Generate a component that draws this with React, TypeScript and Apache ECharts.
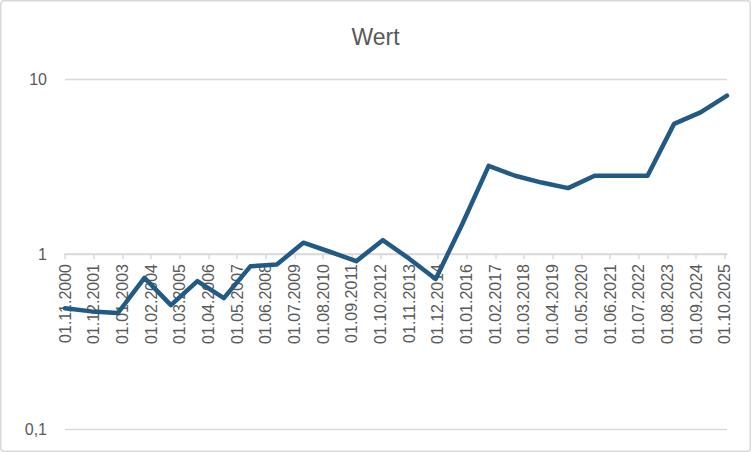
import React, { useEffect, useRef } from 'react';
import * as echarts from 'echarts';

// tick labels of the date axis (every 13 months, starting 01.11.2000)
const tickLabels = [
  '01.11.2000', '01.12.2001', '01.01.2003', '01.02.2004', '01.03.2005', '01.04.2006',
  '01.05.2007', '01.06.2008', '01.07.2009', '01.08.2010', '01.09.2011', '01.10.2012',
  '01.11.2013', '01.12.2014', '01.01.2016', '01.02.2017', '01.03.2018', '01.04.2019',
  '01.05.2020', '01.06.2021', '01.07.2022', '01.08.2023', '01.09.2024', '01.10.2025',
];

// dates of the data points
const pointDates = [
  '01.11.2000', '01.11.2001', '01.11.2002', '01.11.2003', '01.11.2004', '01.11.2005',
  '01.11.2006', '01.11.2007', '01.11.2008', '01.11.2009', '01.11.2010', '01.11.2011',
  '01.11.2012', '01.11.2013', '01.11.2014', '01.11.2015', '01.11.2016', '01.11.2017',
  '01.11.2018', '01.11.2019', '01.11.2020', '01.11.2021', '01.11.2022', '01.11.2023',
  '01.11.2024', '01.11.2025',
];

// Wert
const values = [
  0.49, 0.47, 0.46, 0.73, 0.51, 0.70,
  0.56, 0.85, 0.87, 1.16, 1.03, 0.91,
  1.20, 0.94, 0.72, 1.48, 3.19, 2.80,
  2.56, 2.38, 2.80, 2.80, 2.80, 5.54,
  6.45, 8.04,
];

const yTicks = [0.1, 1, 10];

const START_YEAR = 2000;
const START_MONTH = 11;
const MONTH_STEP = 13;

// months since the first date of the axis
const monthIndex = (d: string): number => {
  const [, m, y] = d.split('.').map(Number);
  return (y - START_YEAR) * 12 + (m - START_MONTH);
};

const App: React.FC = () => {
  const chartRef = useRef<HTMLDivElement>(null);

  useEffect(() => {
    document.body.style.margin = '0';
    const chart = echarts.init(chartRef.current!, undefined, { renderer: 'svg' });

    const lastMonth = monthIndex(pointDates[pointDates.length - 1]);

    const options = {
      animation: false,
      backgroundColor: '#ffffff',
      title: {
        text: 'Wert',
        left: 'center',
        top: 20,
        textStyle: {
          fontFamily: 'Liberation Sans',
          fontSize: 23,
          fontWeight: 'normal',
          color: '#595959',
        },
      },
      graphic: [
        {
          type: 'rect',
          shape: { x: 0.75, y: 0.75, width: 749.5, height: 450.5, r: 3 },
          style: { fill: 'none', stroke: '#d9d9d9', lineWidth: 1.5 },
          silent: true,
        },
      ],
      grid: { left: 65, right: 24, top: 79, bottom: 23 },
      xAxis: {
        type: 'value',
        min: 0,
        max: lastMonth,
        interval: MONTH_STEP,
        offset: -175, // axis crosses the log axis at 1
        axisLine: { show: true, lineStyle: { color: '#d9d9d9', width: 1.5 } },
        axisTick: { show: true, length: 5, lineStyle: { color: '#d9d9d9', width: 1.5 } },
        splitLine: { show: false },
        axisLabel: {
          rotate: 90,
          margin: 10,
          fontFamily: 'Liberation Sans',
          fontSize: 16,
          color: '#595959',
          showMaxLabel: false,
          formatter: (v: number) => (v % MONTH_STEP === 0 ? tickLabels[v / MONTH_STEP] ?? '' : ''),
        },
      },
      yAxis: {
        type: 'log',
        logBase: 10,
        min: yTicks[0],
        max: yTicks[yTicks.length - 1],
        axisLine: { show: false },
        axisTick: { show: false },
        splitLine: { show: true, lineStyle: { color: '#d9d9d9', width: 1.3 } },
        axisLabel: {
          margin: 18,
          fontFamily: 'Liberation Sans',
          fontSize: 16,
          color: '#595959',
          formatter: (v: number) => String(v).replace('.', ','),
        },
      },
      series: [
        {
          name: 'Wert',
          type: 'line',
          data: pointDates.map((d, i) => [monthIndex(d), values[i]]),
          symbol: 'none',
          clip: false,
          lineStyle: { color: '#215a84', width: 4.5, cap: 'round', join: 'round' },
        },
      ],
    };

    chart.setOption(options);

    return () => {
      chart.dispose();
    };
  }, []);

  return <div ref={chartRef} style={{ width: '751px', height: '452px' }} />;
};

export default App;
